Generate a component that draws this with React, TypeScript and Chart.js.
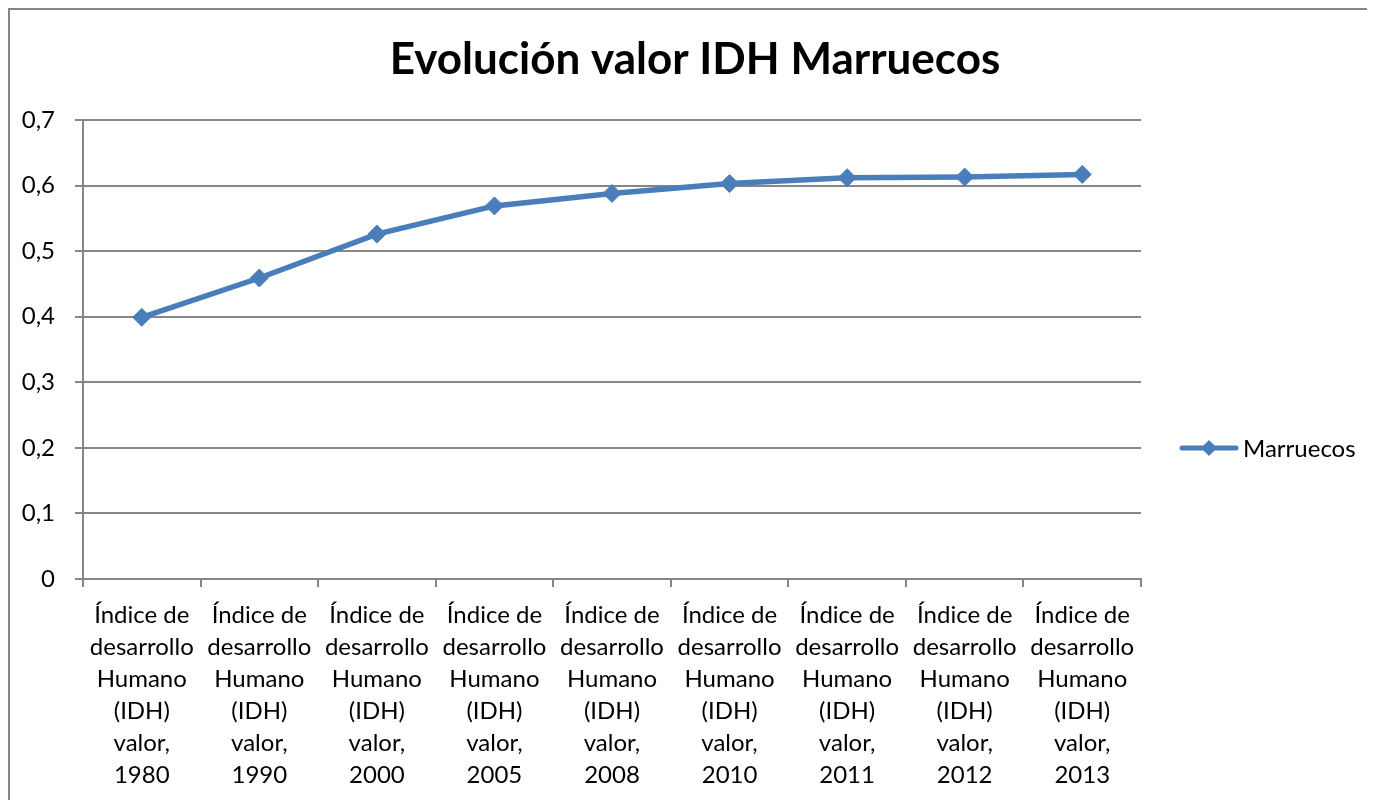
import React, { useEffect, useRef } from "react";
import { Chart, registerables } from "chart.js";

Chart.register(...registerables);

const categories: string[][] = [
  ["Índice de", "desarrollo", "Humano", "(IDH)", "valor,", "1980"],
  ["Índice de", "desarrollo", "Humano", "(IDH)", "valor,", "1990"],
  ["Índice de", "desarrollo", "Humano", "(IDH)", "valor,", "2000"],
  ["Índice de", "desarrollo", "Humano", "(IDH)", "valor,", "2005"],
  ["Índice de", "desarrollo", "Humano", "(IDH)", "valor,", "2008"],
  ["Índice de", "desarrollo", "Humano", "(IDH)", "valor,", "2010"],
  ["Índice de", "desarrollo", "Humano", "(IDH)", "valor,", "2011"],
  ["Índice de", "desarrollo", "Humano", "(IDH)", "valor,", "2012"],
  ["Índice de", "desarrollo", "Humano", "(IDH)", "valor,", "2013"],
];
const seriesName = "Marruecos";
const values: number[] = [0.399, 0.459, 0.526, 0.569, 0.588, 0.603, 0.612, 0.613, 0.617];
const chartTitle = "Evolución valor IDH Marruecos";

const FONT = "Lato, 'Open Sans', sans-serif";
const GRID = "#868686";
const LINE = "#4A7EBB";

const titleLegendPlugin = {
  id: "titleLegend",
  afterDraw(chart: any) {
    const ctx = chart.ctx;
    ctx.save();
    // title
    ctx.fillStyle = "#000";
    ctx.font = `bold 44px ${FONT}`;
    ctx.textAlign = "center";
    ctx.textBaseline = "middle";
    ctx.fillText(chartTitle, 685, 50);
    // legend
    const y = 438;
    ctx.strokeStyle = LINE;
    ctx.lineWidth = 5;
    ctx.lineCap = "round";
    ctx.beginPath();
    ctx.moveTo(1172, y);
    ctx.lineTo(1226, y);
    ctx.stroke();
    ctx.fillStyle = LINE;
    const cx = 1199, r = 8;
    ctx.beginPath();
    ctx.moveTo(cx, y - r);
    ctx.lineTo(cx + r, y);
    ctx.lineTo(cx, y + r);
    ctx.lineTo(cx - r, y);
    ctx.closePath();
    ctx.fill();
    ctx.fillStyle = "#000";
    ctx.font = `24px ${FONT}`;
    ctx.textBaseline = "middle";
    ctx.textAlign = "left";
    ctx.fillText(seriesName, 1233, y + 1);
    ctx.restore();
  },
};

export default function App() {
  const ref = useRef<HTMLCanvasElement | null>(null);
  useEffect(() => {
    if (!ref.current) return;
    const chart = new Chart(ref.current, {
      type: "line",
      data: {
        labels: categories,
        datasets: [
          {
            label: seriesName,
            data: values,
            borderColor: LINE,
            backgroundColor: LINE,
            borderWidth: 5.5,
            pointStyle: "rectRot",
            pointRadius: 9,
            pointBorderWidth: 1,
            pointBackgroundColor: LINE,
            pointBorderColor: LINE,
            tension: 0,
          },
        ],
      },
      options: {
        responsive: false,
        animation: false,
        layout: { padding: { left: 0, right: 234, top: 110, bottom: 0 } },
        plugins: {
          legend: { display: false },
          tooltip: { enabled: false },
          title: { display: false },
        },
        scales: {
          x: {
            offset: true,
            afterFit: (s: any) => {
              s.height = 221;
            },
            grid: {
              offset: true,
              drawOnChartArea: false,
              drawTicks: true,
              tickLength: 8,
              color: GRID,
              lineWidth: 2,
            },
            border: { display: true, color: GRID, width: 2 },
            ticks: {
              color: "#000",
              padding: 12,
              maxRotation: 0,
              autoSkip: false,
              font: { family: FONT, size: 24, lineHeight: 32 / 24 },
            },
          },
          y: {
            min: 0,
            max: 0.7,
            afterFit: (s: any) => {
              s.width = 73;
            },
            grid: {
              color: GRID,
              lineWidth: 2,
              drawTicks: true,
              tickLength: 8,
            },
            border: { display: true, color: GRID, width: 2 },
            ticks: {
              stepSize: 0.1,
              color: "#000",
              padding: 20,
              font: { family: FONT, size: 24 },
              callback: (v: any) => {
                const n = Number(v);
                return n === 0 ? "0" : n.toFixed(1).replace(".", ",");
              },
            },
          },
        },
      },
      plugins: [titleLegendPlugin],
    });
    return () => chart.destroy();
  }, []);
  return (
    <div
      style={{
        width: 1365,
        height: 790,
        borderLeft: `2px solid ${GRID}`,
        borderTop: `2px solid ${GRID}`,
        background: "#fff",
      }}
    >
      <canvas ref={ref} width={1365} height={790} style={{ display: "block" }} />
    </div>
  );
}
